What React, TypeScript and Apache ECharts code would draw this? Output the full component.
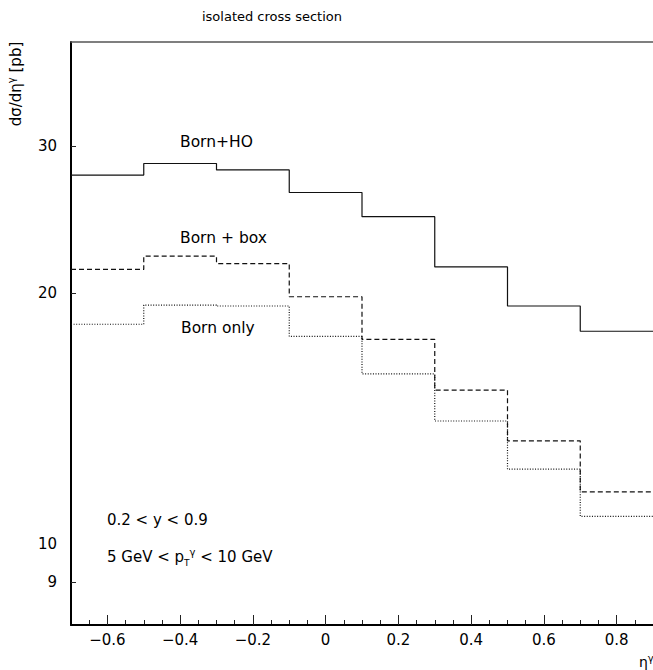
import React, { useEffect, useRef } from 'react';
import * as echarts from 'echarts';

// Bin edges in eta^gamma and the three histograms (dσ/dη^γ in pb)
const binEdges = [-0.7, -0.5, -0.3, -0.1, 0.1, 0.3, 0.5, 0.7, 0.9];
const bornHO = [27.7, 28.6, 28.1, 26.4, 24.7, 21.5, 19.3, 18.0];
const bornBox = [21.35, 22.15, 21.7, 19.8, 17.6, 15.3, 13.3, 11.55];
const bornOnly = [18.35, 19.35, 19.3, 17.75, 16.0, 14.05, 12.3, 10.8];

// Axis ranges and tick values
const xMin = -0.7;
const xMax = 0.9;
const yMin = 8;
const yMax = 40;
const xMajorTicks = [-0.6, -0.4, -0.2, 0, 0.2, 0.4, 0.6, 0.8];
const xMajorStep = 0.2;
const xMinorStep = 0.05;
const yLabelTicks = [9, 10, 20, 30];
const yShortTicks = [9, 20, 30];
const yLongTicks = [10];

const FONT = 'DejaVu Sans';
const TICK_COLOR = '#222';

function toSteps(values: number[]): number[][] {
  const pts = values.map((v, i) => [binEdges[i], v]);
  pts.push([binEdges[binEdges.length - 1], values[values.length - 1]]);
  return pts;
}

function fmtX(v: number): string {
  if (Math.abs(v) < 1e-9) return '0';
  return (v < 0 ? '\u2212' : '') + Math.abs(v).toFixed(1);
}

function txt(x: number, y: number, text: string, opts: any = {}) {
  const align = opts.align || 'left';
  const va = opts.verticalAlign || 'middle';
  return {
    type: 'text',
    x,
    y,
    rotation: opts.rotation || 0,
    silent: true,
    style: {
      text,
      fill: '#000',
      fontSize: opts.fontSize || 15,
      fontFamily: FONT,
      align,
      textAlign: align,
      verticalAlign: va,
      textVerticalAlign: va,
      rich: opts.rich,
      lineHeight: opts.lineHeight,
    },
  };
}

// an axis that only shows its split lines (used as short tick marks in a thin strip grid)
function stripAxis(gridIndex: number, type: string, extra: any) {
  return {
    gridIndex,
    type,
    show: true,
    axisLine: { show: false, onZero: false },
    axisTick: { show: false },
    axisLabel: { show: false },
    splitLine: { show: true, lineStyle: { color: TICK_COLOR, width: 1 } },
    ...extra,
  };
}

function hiddenAxis(gridIndex: number) {
  return {
    gridIndex,
    type: 'value',
    min: 0,
    max: 1,
    show: true,
    axisLine: { show: false, onZero: false },
    axisTick: { show: false },
    axisLabel: { show: false },
    splitLine: { show: false },
  };
}

export default function App() {
  const ref = useRef<HTMLDivElement>(null);

  useEffect(() => {
    document.body.style.margin = '0';
    if (!ref.current) return;
    const chart = echarts.init(ref.current, null, { renderer: 'svg' });

    const supSub = {
      sup: { fontSize: 10, fontFamily: FONT, fill: '#000', color: '#000', verticalAlign: 'top', lineHeight: 10 },
      sub: { fontSize: 9, fontFamily: FONT, fill: '#000', color: '#000', verticalAlign: 'bottom', lineHeight: 10 },
    };

    const L = 71;
    const T = 42;
    const W = 582;
    const H = 583;
    const B = T + H;
    const pxPerX = W / (xMax - xMin);
    const majFirst = xMajorTicks[0];
    const majLast = xMajorTicks[xMajorTicks.length - 1];

    const option: any = {
      animation: false,
      grid: [
        { left: L, top: T, width: W, height: H },
        // strip for major x ticks (axis spans first..last major tick)
        { left: L + (majFirst - xMin) * pxPerX, top: B - 10, width: (majLast - majFirst) * pxPerX, height: 10 },
        // strip for minor x ticks
        { left: L, top: B - 5, width: W, height: 5 },
        // strip for short y ticks
        { left: L, top: T, width: 5, height: H },
        // strip for long y tick
        { left: L, top: T, width: 10, height: H },
      ],
      xAxis: [
        {
          gridIndex: 0,
          type: 'value',
          min: xMin,
          max: xMax,
          position: 'bottom',
          axisLine: { show: true, onZero: false, lineStyle: { color: '#000', width: 2 } },
          axisTick: {
            show: true,
            inside: true,
            length: 10,
            customValues: xMajorTicks,
            lineStyle: { color: TICK_COLOR, width: 1 },
          },
          axisLabel: {
            show: true,
            customValues: xMajorTicks,
            formatter: fmtX,
            margin: 7,
            color: '#000',
            fontSize: 15,
            fontFamily: FONT,
          },
          splitLine: { show: false },
        },
        {
          gridIndex: 0,
          type: 'value',
          min: xMin,
          max: xMax,
          position: 'top',
          axisLine: { show: true, onZero: false, lineStyle: { color: '#555', width: 1.5 } },
          axisTick: { show: false },
          axisLabel: { show: false },
          splitLine: { show: false },
        },
        stripAxis(1, 'value', { min: majFirst, max: majLast, interval: xMajorStep }),
        stripAxis(2, 'value', { min: xMin, max: xMax, interval: xMinorStep }),
        hiddenAxis(3),
        hiddenAxis(4),
      ],
      yAxis: [
        {
          gridIndex: 0,
          type: 'log',
          logBase: 10,
          min: yMin,
          max: yMax,
          position: 'left',
          axisLine: { show: true, onZero: false, lineStyle: { color: '#000', width: 2 } },
          axisTick: {
            show: true,
            inside: true,
            length: 5,
            customValues: yShortTicks,
            lineStyle: { color: TICK_COLOR, width: 1 },
          },
          axisLabel: {
            show: true,
            customValues: yLabelTicks,
            margin: 14,
            color: '#000',
            fontSize: 15,
            fontFamily: FONT,
          },
          splitLine: { show: false },
        },
        hiddenAxis(1),
        hiddenAxis(2),
        stripAxis(3, 'log', {
          logBase: 10,
          min: yMin,
          max: yMax,
          axisTick: { show: false, customValues: yShortTicks },
          splitLine: { show: true, showMinLine: false, showMaxLine: false, lineStyle: { color: TICK_COLOR, width: 1 } },
        }),
        stripAxis(4, 'log', {
          logBase: 10,
          min: yMin,
          max: yMax,
          axisTick: { show: false, customValues: yLongTicks },
          splitLine: { show: true, showMinLine: false, showMaxLine: false, lineStyle: { color: TICK_COLOR, width: 1 } },
        }),
      ],
      series: [
        {
          type: 'line',
          name: 'Born+HO',
          xAxisIndex: 0,
          yAxisIndex: 0,
          step: 'end',
          data: toSteps(bornHO),
          symbol: 'none',
          showSymbol: false,
          lineStyle: { color: '#111', width: 1.2, type: 'solid' },
        },
        {
          type: 'line',
          name: 'Born + box',
          xAxisIndex: 0,
          yAxisIndex: 0,
          step: 'end',
          data: toSteps(bornBox),
          symbol: 'none',
          showSymbol: false,
          lineStyle: { color: '#111', width: 1.2, type: [5, 3] },
        },
        {
          type: 'line',
          name: 'Born only',
          xAxisIndex: 0,
          yAxisIndex: 0,
          step: 'end',
          data: toSteps(bornOnly),
          symbol: 'none',
          showSymbol: false,
          lineStyle: { color: '#111', width: 1.2, type: [1, 1.6] },
        },
      ],
      graphic: [
        txt(272, 16, 'isolated cross section', { align: 'center', fontSize: 13 }),
        txt(180, 142, 'Born+HO', { fontSize: 15.5 }),
        txt(180, 238, 'Born + box', { fontSize: 15.5 }),
        txt(181, 328, 'Born only', { fontSize: 15.5 }),
        txt(107, 520, '0.2 < y < 0.9', { fontSize: 15 }),
        txt(107, 557, '5 GeV < p{sub|T}{sup|\u03b3} < 10 GeV', {
          fontSize: 15,
          rich: supSub,
          lineHeight: 20,
        }),
        txt(639, 662, '\u03b7{sup|\u03b3}', { fontSize: 14, rich: supSub, lineHeight: 18 }),
        txt(16, 84, 'd\u03c3/d\u03b7{sup|\u03b3} [pb]', {
          align: 'center',
          fontSize: 15,
          rotation: Math.PI / 2,
          rich: supSub,
          lineHeight: 20,
        }),
      ],
    };

    chart.setOption(option);
    return () => {
      chart.dispose();
    };
  }, []);

  return <div ref={ref} style={{ width: 653, height: 670 }} />;
}
